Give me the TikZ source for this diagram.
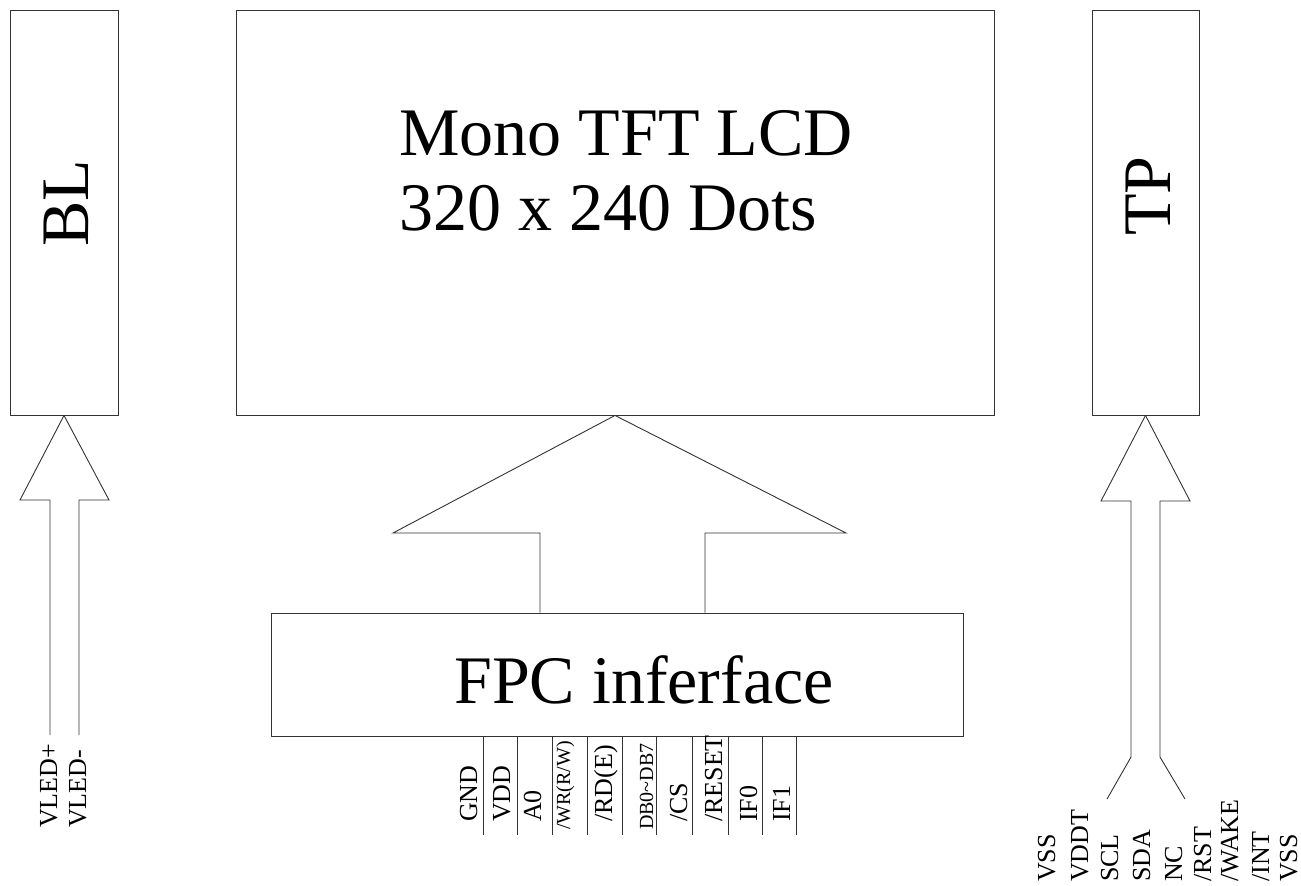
\documentclass[tikz,border=0pt]{standalone}
\usepackage{fontspec}
\setmainfont{Liberation Serif}
\tikzset{
  blk/.style={draw=black!80,line width=0.9pt,inner sep=0pt,minimum height=405pt},
  bigtext/.style={inner sep=0pt,font=\fontsize{68}{75}\selectfont},
  pinlabel/.style={rotate=90,anchor=base west,inner sep=0pt,font=\fontsize{26}{26}\selectfont},
  smallpin/.style={pinlabel,font=\fontsize{20}{20}\selectfont},
  wire/.style={draw=black!80,line width=0.9pt,line join=miter}
}
\begin{document}
\begin{tikzpicture}[x=1pt,y=-1pt]
\useasboundingbox[fill=white] (0,0) rectangle (1301,886);
% blocks
\node[blk,minimum width=108pt] (bl) at (64,212.5) {};
\node[blk,minimum width=758pt] (lcd) at (615,212.5) {};
\node[blk,minimum width=107pt] (tp) at (1145.5,212.5) {};
\node[blk,minimum width=692pt,minimum height=123pt] (fpc) at (617,674.5) {};
% block texts
\node[bigtext,rotate=90,anchor=base] (bltext) at (88,203) {BL};
\node[bigtext,rotate=90,anchor=base] (tptext) at (1170,196) {TP};
\node[bigtext,anchor=base west] (lcdtitle) at (399,155) {Mono TFT LCD};
\node[bigtext,anchor=base west] (lcdres) at (399,230) {320 x 240 Dots};
\node[bigtext,anchor=base] (fpctext) at (644,703) {FPC inferface};
% wide arrow FPC -> LCD
\coordinate (mainL) at (393,533);
\coordinate (mainR) at (846,533);
\draw[wire] (lcd.south) -- (mainL) -- (540,533) -- (540,533 |- fpc.north);
\draw[wire] (lcd.south) -- (mainR) -- (705,533) -- (705,533 |- fpc.north);
% backlight arrow
\coordinate (blL) at (20,500);
\coordinate (blR) at (109,500);
\draw[wire] (bl.south) -- (blL) -- (50,500) -- (50,735);
\draw[wire] (bl.south) -- (blR) -- (79,500) -- (79,735);
\node[pinlabel] (vledp) at (57,828) {VLED+};
\node[pinlabel] (vledm) at (86,828) {VLED-};
% touch panel arrow
\coordinate (tpL) at (1101,501);
\coordinate (tpR) at (1190,501);
\draw[wire] (tp.south) -- (tpL) -- (1131,501) -- (1131,757) -- (1107,799);
\draw[wire] (tp.south) -- (tpR) -- (1160,501) -- (1160,757) -- (1185,799);
\node[pinlabel] (tp1) at (1055,882) {VSS};
\node[pinlabel] (tp2) at (1088,882) {VDDT};
\node[pinlabel] (tp3) at (1118,882) {SCL};
\node[pinlabel] (tp4) at (1150,882) {SDA};
\node[pinlabel] (tp5) at (1182,882) {NC};
\node[pinlabel] (tp6) at (1211,882) {/RST};
\node[pinlabel] (tp7) at (1238,882) {/WAKE};
\node[pinlabel] (tp8) at (1269,882) {/INT};
\node[pinlabel] (tp9) at (1297,882) {VSS};
% FPC pins
\foreach \x in {483,517,552,587,622,656,692,728,762,796}
  \draw[wire] (\x,0 |- fpc.south) -- (\x,835);
\node[pinlabel] (gnd) at (477,822) {GND};
\node[pinlabel] (vdd) at (510,822) {VDD};
\node[pinlabel] (azero) at (541,822) {A0};
\node[smallpin] (wr) at (570,830) {/WR(R/W)};
\node[pinlabel] (rd) at (612,822) {/RD(E)};
\node[smallpin] (db) at (653,830) {DB0\textasciitilde DB7};
\node[pinlabel] (cs) at (687,822) {/CS};
\node[pinlabel] (reset) at (722,822) {/RESET};
\node[pinlabel] (ifzero) at (757,822) {IF0};
\node[pinlabel] (ifone) at (790,822) {IF1};
\end{tikzpicture}
\end{document}
